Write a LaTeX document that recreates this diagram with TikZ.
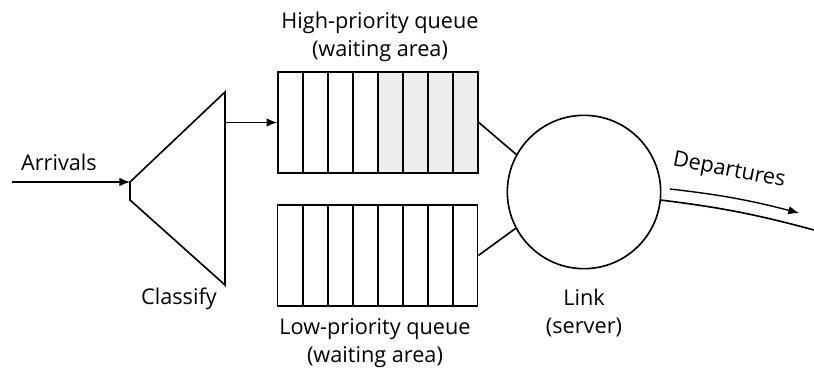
\documentclass[tikz,border=0pt]{standalone}
\usepackage{fontspec}
\setmainfont{Open Sans}
\usetikzlibrary{arrows.meta,positioning}

\begin{document}
\begin{tikzpicture}[
  x=0.03cm,y=-0.03cm,
  every node/.style={font=\fontsize{18.5}{24}\selectfont},
  lbl/.style={align=center,inner sep=0pt},
  queue/.style={draw,line width=1.4pt,minimum width=6cm,minimum height=3.03cm,
    inner sep=0pt},
  server/.style={draw,circle,line width=1.4pt,minimum size=4.6cm,inner sep=0pt},
  link/.style={line width=1.4pt},
  arr/.style={-{Latex[length=3.2mm,width=2.6mm]},line width=1.2pt}
]
\useasboundingbox (0,0) rectangle (814,376);
% classifier
\draw[link] (225,92) -- (130,182) -- (130,200) -- (225,285) -- cycle;
\coordinate (cin) at (130,182);
\coordinate (cout) at (226,122.5);
\coordinate (src) at (12,182);
% queues
\fill[gray!14] (378,72) rectangle (478,173);
\node[queue] (hq) at (378,122.5) {};
\node[queue] (lq) at (377.5,255.5) {};
\foreach \i in {1,...,7} {
  \draw[link] (278+25*\i,72) -- ++(0,101);
  \draw[link] (278+25*\i,204) -- ++(0,103);
}
\node[server] (srv) at (584,192) {};
% labels
\node[lbl] (arrl) at (59,162) {Arrivals};
\node[lbl] (clsl) at (179,299) {Classify};
\node[lbl] (hql) at (380,37) {High-priority queue\\(waiting area)};
\node[lbl] (lql) at (375,343) {Low-priority queue\\(waiting area)};
\node[lbl] (srvl) at (584,313) {Link\\(server)};
\node[lbl,rotate=-11] (depl) at (729,171) {Departures};
% connectors
\coordinate (dep0) at (670,189);
\coordinate (dep1) at (799,213);
\coordinate (edge) at (814,230);
\draw[arr] (src) -- (cin);
\draw[arr] (cout) -- (hq.west);
\draw[link] (hq.east) -- (srv.151);
\draw[link] (lq.east) -- (srv.208);
\draw[arr] (dep0) to[bend left=4] (dep1);
\draw[link] (srv.-6) to[bend left=4] (edge);
\end{tikzpicture}
\end{document}
